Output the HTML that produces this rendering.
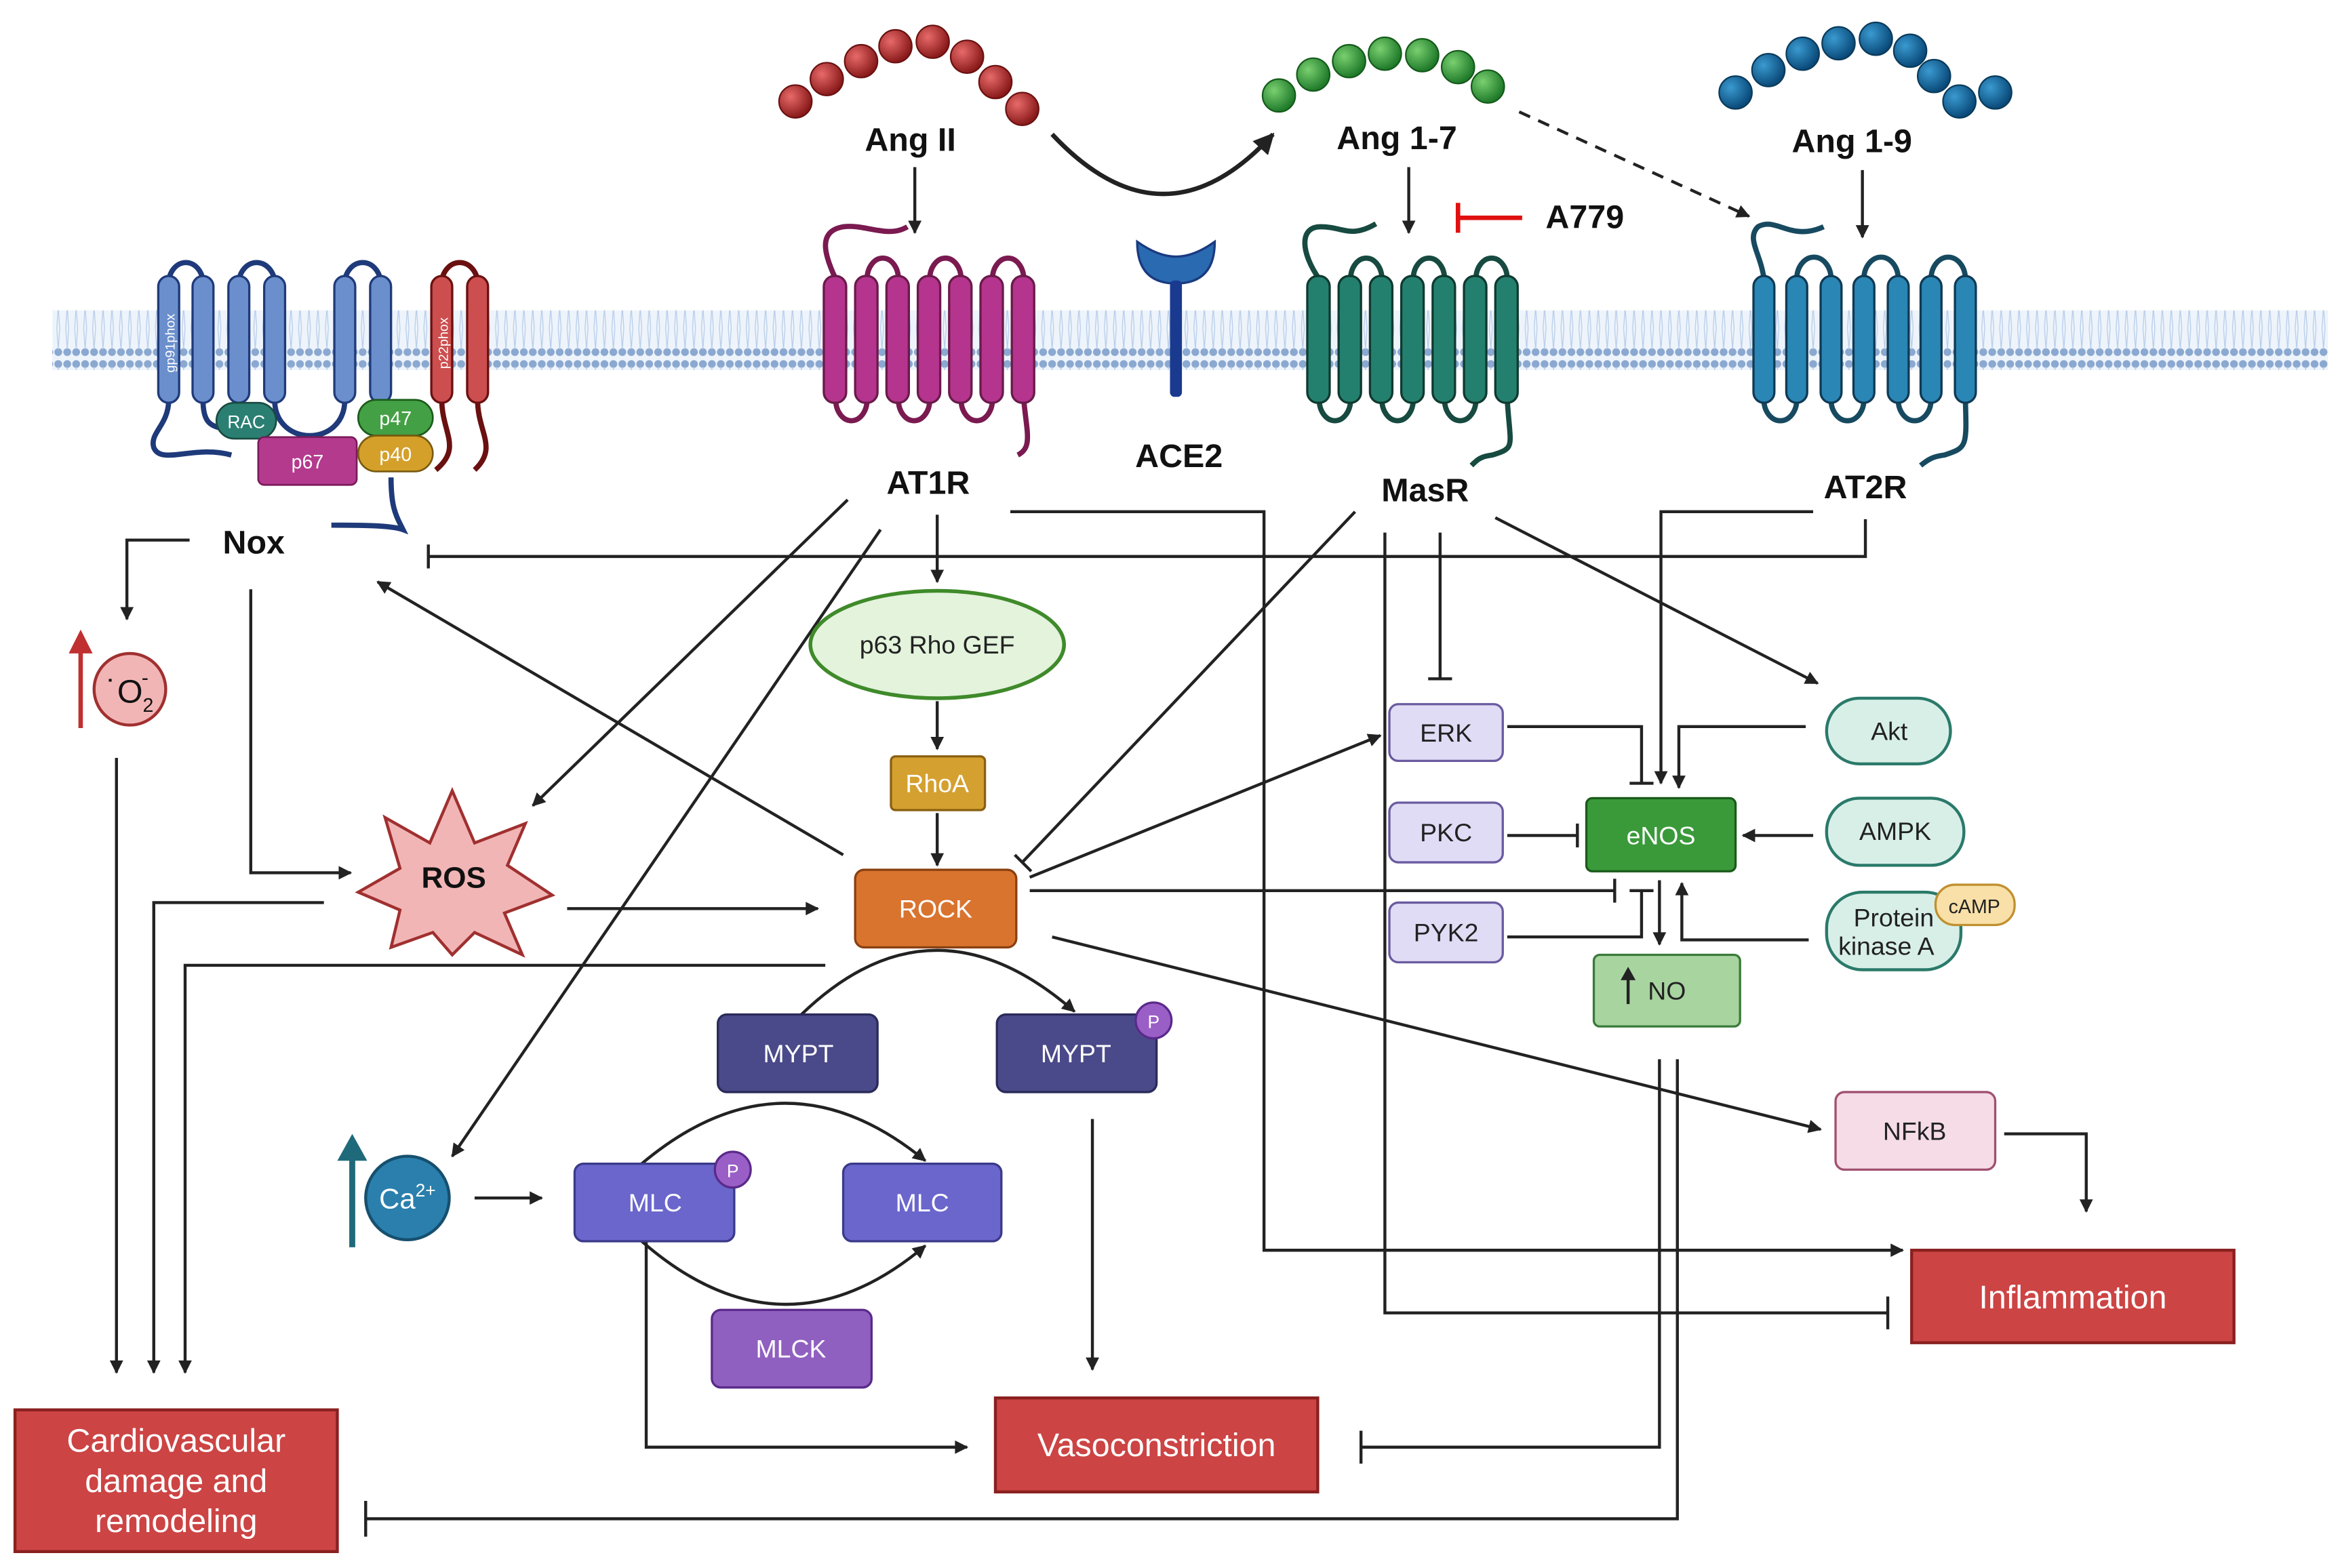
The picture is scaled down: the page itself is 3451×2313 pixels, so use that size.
<!DOCTYPE html>
<html><head><meta charset="utf-8"><style>
html,body{margin:0;padding:0;background:#fff;}
svg{display:block;}
text{font-family:"Liberation Sans",sans-serif;}
.lb{font-weight:bold;font-size:22px;fill:#111;text-anchor:middle;}
.bx{font-size:17px;text-anchor:middle;}
</style></head><body>
<svg width="3451" height="2313" viewBox="0 0 1568 1051" xmlns="http://www.w3.org/2000/svg">
<defs>
<marker id="ar" viewBox="0 0 10 10" refX="9" refY="5" markerWidth="10" markerHeight="9" orient="auto-start-reverse" markerUnits="userSpaceOnUse"><path d="M0,0 L10,5 L0,10 z" fill="#222"/></marker>
<marker id="ar2" viewBox="0 0 10 10" refX="9" refY="5" markerWidth="14" markerHeight="14" orient="auto" markerUnits="userSpaceOnUse"><path d="M0,0 L10,5 L0,10 z" fill="#222"/></marker>
<pattern id="dots" x="0" y="0" width="6" height="40" patternUnits="userSpaceOnUse">
<circle cx="3" cy="4" r="2.6" fill="#8aa8d0"/><circle cx="3" cy="36" r="2.6" fill="#8aa8d0"/>
<line x1="3" y1="6" x2="2" y2="20" stroke="#b8cdea" stroke-width="0.6"/><line x1="3" y1="6" x2="4" y2="20" stroke="#b8cdea" stroke-width="0.6"/>
<line x1="3" y1="34" x2="2" y2="20" stroke="#b8cdea" stroke-width="0.6"/><line x1="3" y1="34" x2="4" y2="20" stroke="#b8cdea" stroke-width="0.6"/>
</pattern>
<radialGradient id="gr" cx="35%" cy="35%" r="65%"><stop offset="0" stop-color="#e86a6a"/><stop offset="1" stop-color="#8a1a1a"/></radialGradient>
<radialGradient id="gg" cx="35%" cy="35%" r="65%"><stop offset="0" stop-color="#7ad070"/><stop offset="1" stop-color="#1f7a2a"/></radialGradient>
<radialGradient id="gb" cx="35%" cy="35%" r="65%"><stop offset="0" stop-color="#3a9ad0"/><stop offset="1" stop-color="#0a4a7a"/></radialGradient>
</defs>

<rect x="35" y="208" width="1525" height="40" fill="#eef4fb"/>
<rect x="35" y="208" width="1525" height="40" fill="url(#dots)"/>

<g fill="url(#gr)" stroke="#6a1010" stroke-width="1">
<circle cx="533" cy="68" r="11"/><circle cx="554" cy="53" r="11"/><circle cx="577" cy="41" r="11"/><circle cx="600" cy="31" r="11"/><circle cx="625" cy="28" r="11"/><circle cx="648" cy="38" r="11"/><circle cx="667" cy="55" r="11"/><circle cx="685" cy="73" r="11"/></g>
<g fill="url(#gg)" stroke="#145a1a" stroke-width="1">
<circle cx="857" cy="64" r="11"/><circle cx="880" cy="50" r="11"/><circle cx="904" cy="41" r="11"/><circle cx="928" cy="36" r="11"/><circle cx="953" cy="37" r="11"/><circle cx="977" cy="45" r="11"/><circle cx="997" cy="58" r="11"/></g>
<g fill="url(#gb)" stroke="#0a3a5a" stroke-width="1">
<circle cx="1163" cy="62" r="11"/><circle cx="1185" cy="47" r="11"/><circle cx="1208" cy="36" r="11"/><circle cx="1232" cy="29" r="11"/><circle cx="1257" cy="26" r="11"/><circle cx="1280" cy="34" r="11"/><circle cx="1296" cy="51" r="11"/><circle cx="1313" cy="68" r="11"/><circle cx="1337" cy="62" r="11"/></g>
<text class="lb" x="610" y="101">Ang II</text>
<text class="lb" x="936" y="100">Ang 1-7</text>
<text class="lb" x="1241" y="102">Ang 1-9</text>

<g stroke="#6a1a4a" stroke-width="1.5" fill="#b4348e">
<path d="M560,187 C552,170 548,155 565,152 C580,150 595,160 608,152" fill="none" stroke="#7a1a50" stroke-width="3.5"/>
<path d="M581,187 A10.5,14 0 0 1 602,187 M623,187 A10.5,14 0 0 1 644,187 M665,187 A10.5,14 0 0 1 686,187" fill="none" stroke="#7a1a50" stroke-width="3.5"/>
<path d="M560,268 A10.5,14 0 0 0 581,268 M602,268 A10.5,14 0 0 0 623,268 M644,268 A10.5,14 0 0 0 665,268 M686,268 C688,290 692,300 682,305" fill="none" stroke="#7a1a50" stroke-width="3.5"/>
<rect x="552" y="185" width="15" height="85" rx="7"/><rect x="573" y="185" width="15" height="85" rx="7"/><rect x="594" y="185" width="15" height="85" rx="7"/><rect x="615" y="185" width="15" height="85" rx="7"/><rect x="636" y="185" width="15" height="85" rx="7"/><rect x="657" y="185" width="15" height="85" rx="7"/><rect x="678" y="185" width="15" height="85" rx="7"/>
</g>
<text class="lb" x="622" y="331">AT1R</text>

<path d="M762,162 Q762,190 788,190 Q814,190 814,162 Q800,172 788,172 Q776,172 762,162z" fill="#2a6ab0" stroke="#1a3a80" stroke-width="1.5"/>
<rect x="784" y="188" width="8" height="78" rx="3" fill="#1a3a90"/>
<text class="lb" x="790" y="313">ACE2</text>

<g stroke="#0f3a30" stroke-width="1.5" fill="#24806e">
<path d="M884,187 C872,170 870,152 885,152 C900,152 905,160 922,150" fill="none" stroke="#174a40" stroke-width="3.5"/>
<path d="M905,187 A10.5,14 0 0 1 926,187 M947,187 A10.5,14 0 0 1 968,187 M989,187 A10.5,14 0 0 1 1010,187" fill="none" stroke="#174a40" stroke-width="3.5"/>
<path d="M884,268 A10.5,14 0 0 0 905,268 M926,268 A10.5,14 0 0 0 947,268 M968,268 A10.5,14 0 0 0 989,268 M1010,268 C1012,300 1016,300 1000,305 C992,306 990,308 986,312" fill="none" stroke="#174a40" stroke-width="3.5"/>
<rect x="876" y="185" width="15" height="85" rx="7"/><rect x="897" y="185" width="15" height="85" rx="7"/><rect x="918" y="185" width="15" height="85" rx="7"/><rect x="939" y="185" width="15" height="85" rx="7"/><rect x="960" y="185" width="15" height="85" rx="7"/><rect x="981" y="185" width="15" height="85" rx="7"/><rect x="1002" y="185" width="15" height="85" rx="7"/>
</g>
<text class="lb" x="955" y="336">MasR</text>

<g stroke="#0f3a55" stroke-width="1.5" fill="#2a86b4">
<path d="M1182,187 C1180,170 1170,160 1178,152 C1190,145 1200,162 1222,152" fill="none" stroke="#174a60" stroke-width="3.5"/>
<path d="M1204,187 A11,14 0 0 1 1227,187 M1249,187 A11,14 0 0 1 1272,187 M1294,187 A11,14 0 0 1 1317,187" fill="none" stroke="#174a60" stroke-width="3.5"/>
<path d="M1182,268 A11,14 0 0 0 1204,268 M1227,268 A11,14 0 0 0 1249,268 M1272,268 A11,14 0 0 0 1294,268 M1317,268 C1318,300 1318,300 1303,305 C1295,306 1292,308 1287,312" fill="none" stroke="#174a60" stroke-width="3.5"/>
<rect x="1175" y="185" width="14" height="85" rx="7"/><rect x="1197" y="185" width="14" height="85" rx="7"/><rect x="1220" y="185" width="14" height="85" rx="7"/><rect x="1242" y="185" width="14" height="85" rx="7"/><rect x="1265" y="185" width="14" height="85" rx="7"/><rect x="1287" y="185" width="14" height="85" rx="7"/><rect x="1310" y="185" width="14" height="85" rx="7"/>
</g>
<text class="lb" x="1250" y="334">AT2R</text>

<g fill="none" stroke="#1f3a7a" stroke-width="3.5">
<path d="M113,190 A11.5,14 0 0 1 136,190 M160,190 A12,14 0 0 1 184,190 M231,190 A12,14 0 0 1 255,190"/>
<path d="M113,268 C113,285 100,290 103,300 C108,312 130,298 155,305"/>
<path d="M136,268 C136,282 140,285 148,287"/>
<path d="M184,268 C184,300 231,300 231,268"/>
<path d="M262,320 C262,340 265,345 270,355 C262,352 240,352 222,352"/>
</g>
<g fill="none" stroke="#6a1010" stroke-width="3.5">
<path d="M296,190 A12,14 0 0 1 320,190"/>
<path d="M296,268 C296,290 310,300 292,315 M320,268 C320,290 334,300 318,315"/>
</g>
<g stroke="#1f3a7a" stroke-width="1.5" fill="#6a8fcc">
<rect x="106" y="185" width="14" height="85" rx="7"/><rect x="129" y="185" width="14" height="85" rx="7"/><rect x="153" y="185" width="14" height="85" rx="7"/><rect x="177" y="185" width="14" height="85" rx="7"/><rect x="224" y="185" width="14" height="85" rx="7"/><rect x="248" y="185" width="14" height="85" rx="7"/>
</g>
<g stroke="#6a1010" stroke-width="1.5" fill="#cc4e4e">
<rect x="289" y="185" width="14" height="85" rx="7"/><rect x="313" y="185" width="14" height="85" rx="7"/>
</g>
<text x="117" y="230" font-size="9" fill="#fff" transform="rotate(-90 117 230)" text-anchor="middle">gp91phox</text>
<text x="300" y="230" font-size="9" fill="#fff" transform="rotate(-90 300 230)" text-anchor="middle">p22phox</text>
<rect x="145" y="270" width="40" height="24" rx="12" fill="#2a7f72" stroke="#1a4a40" stroke-width="1.2"/>
<text x="165" y="287" font-size="12" fill="#fff" text-anchor="middle">RAC</text>
<rect x="173" y="293" width="66" height="32" rx="4" fill="#b43a8e" stroke="#7a1a5a" stroke-width="1.2"/>
<text x="206" y="314" font-size="13" fill="#fff" text-anchor="middle">p67</text>
<rect x="240" y="268" width="50" height="24" rx="12" fill="#44a044" stroke="#1a5a1a" stroke-width="1.2"/>
<text x="265" y="285" font-size="13" fill="#fff" text-anchor="middle">p47</text>
<rect x="240" y="292" width="50" height="24" rx="12" fill="#d4a02a" stroke="#7a5a10" stroke-width="1.2"/>
<text x="265" y="309" font-size="13" fill="#fff" text-anchor="middle">p40</text>
<text class="lb" x="170" y="371">Nox</text>

<g fill="none" stroke="#222" stroke-width="2">
<line x1="613" y1="112" x2="613" y2="156" marker-end="url(#ar)"/>
<path d="M705,90 Q780,170 853,90" stroke-width="3" marker-end="url(#ar2)"/>
<line x1="944" y1="112" x2="944" y2="156" marker-end="url(#ar)"/>
<line x1="1018" y1="75" x2="1172" y2="145" stroke-dasharray="8,6" marker-end="url(#ar)"/>
<line x1="1248" y1="114" x2="1248" y2="159" marker-end="url(#ar)"/>
<path d="M127,362 H85 V415" marker-end="url(#ar)"/>
<path d="M1250,348 V373 H287 M287,365 V381"/>
<line x1="628" y1="345" x2="628" y2="390" marker-end="url(#ar)"/>
<line x1="628" y1="470" x2="628" y2="502" marker-end="url(#ar)"/>
<line x1="628" y1="545" x2="628" y2="580" marker-end="url(#ar)"/>
<line x1="568" y1="335" x2="357" y2="540" marker-end="url(#ar)"/>
<line x1="590" y1="355" x2="303" y2="775" marker-end="url(#ar)"/>
<path d="M677,343 H847 V838 H1275" marker-end="url(#ar)"/>
<line x1="565" y1="573" x2="253" y2="390" marker-end="url(#ar)"/>
<path d="M168,395 V585 H235" marker-end="url(#ar)"/>
<line x1="380" y1="609" x2="548" y2="609" marker-end="url(#ar)"/>
<path d="M217,605 H103 V920" marker-end="url(#ar)"/>
<path d="M553,647 H124 V920" marker-end="url(#ar)"/>
<line x1="78" y1="508" x2="78" y2="920" marker-end="url(#ar)"/>
<path d="M537,680 Q625,595 720,678" marker-end="url(#ar)"/>
<path d="M430,780 Q525,700 620,778" marker-end="url(#ar)"/>
<path d="M430,832 Q525,915 620,835" marker-end="url(#ar)"/>
<line x1="318" y1="803" x2="363" y2="803" marker-end="url(#ar)"/>
<path d="M433,832 V970 H648" marker-end="url(#ar)"/>
<line x1="732" y1="750" x2="732" y2="918" marker-end="url(#ar)"/>
<line x1="705" y1="628" x2="1220" y2="757" marker-end="url(#ar)"/>
<path d="M1343,760 H1398 V812" marker-end="url(#ar)"/>
<path d="M908,343 L685,578 M680,573 L691,584"/>
<path d="M965,357 V455 M957,455 H973"/>
<line x1="1002" y1="347" x2="1218" y2="458" marker-end="url(#ar)"/>
<path d="M928,357 V880 H1265 M1265,869 V891"/>
<line x1="690" y1="588" x2="925" y2="493" marker-end="url(#ar)"/>
<path d="M690,597 H1082 M1082,589 V605"/>
<path d="M1010,487 H1100 V525 M1092,525 H1108"/>
<path d="M1210,487 H1125 V528" marker-end="url(#ar)"/>
<path d="M1215,343 H1113 V525" marker-end="url(#ar)"/>
<path d="M1010,560 H1057 M1057,552 V568"/>
<line x1="1215" y1="560" x2="1168" y2="560" marker-end="url(#ar)"/>
<path d="M1010,628 H1100 V597 M1092,597 H1108"/>
<line x1="1112" y1="590" x2="1112" y2="633" marker-end="url(#ar)"/>
<path d="M1212,630 H1127 V592" marker-end="url(#ar)"/>
<path d="M1112,710 V970 H912 M912,959 V981"/>
<path d="M1124,710 V1018 H245 M245,1006 V1030"/>
</g>
<path d="M1020,146 H977 M977,136 V156" stroke="#e01010" stroke-width="3" fill="none"/>
<text class="lb" x="1062" y="153">A779</text>

<line x1="54" y1="488" x2="54" y2="430" stroke="#c03030" stroke-width="3"/>
<path d="M46,438 L54,422 L62,438z" fill="#c03030"/>
<circle cx="87" cy="462" r="24" fill="#f2b5b5" stroke="#a03030" stroke-width="2"/>
<text x="87" y="471" font-size="22" text-anchor="middle" fill="#111">˙O<tspan font-size="13" dy="6">2</tspan><tspan font-size="14" dy="-18" dx="-8">-</tspan></text>
<line x1="236" y1="836" x2="236" y2="772" stroke="#1f6a7a" stroke-width="4"/>
<path d="M226,778 L236,760 L246,778z" fill="#1f6a7a"/>
<circle cx="273" cy="803" r="28" fill="#2a7fad" stroke="#16506e" stroke-width="2"/>
<text x="273" y="810" font-size="19" fill="#fff" text-anchor="middle">Ca<tspan font-size="12" dy="-8">2+</tspan></text>

<path d="M303,530 L318,565 L352,552 L340,580 L370,600 L338,612 L350,640 L318,625 L303,640 L290,625 L262,635 L268,610 L240,598 L268,582 L258,548 L288,565 Z" fill="#f2b5b5" stroke="#a03030" stroke-width="2"/>
<text x="304" y="595" font-size="20" font-weight="bold" text-anchor="middle" fill="#111">ROS</text>

<ellipse cx="628" cy="432" rx="85" ry="36" fill="#e3f3dc" stroke="#3f8a2a" stroke-width="2.5"/>
<text class="bx" x="628" y="438" fill="#222">p63 Rho GEF</text>
<rect x="597" y="507" width="63" height="36" rx="3" fill="#d4a030" stroke="#8a6010" stroke-width="1.5"/>
<text class="bx" x="628" y="531" fill="#fff">RhoA</text>
<rect x="573" y="583" width="108" height="52" rx="6" fill="#d9742f" stroke="#8a4010" stroke-width="1.5"/>
<text class="bx" x="627" y="615" fill="#fff">ROCK</text>
<rect x="481" y="680" width="107" height="52" rx="6" fill="#4a4a8a" stroke="#2a2a5a" stroke-width="1.5"/>
<text class="bx" x="535" y="712" fill="#fff">MYPT</text>
<rect x="668" y="680" width="107" height="52" rx="6" fill="#4a4a8a" stroke="#2a2a5a" stroke-width="1.5"/>
<text class="bx" x="721" y="712" fill="#fff">MYPT</text>
<circle cx="773" cy="684" r="12" fill="#9a5fc7" stroke="#5a2a8a" stroke-width="1.5"/><text x="773" y="689" font-size="12" fill="#fff" text-anchor="middle">P</text>
<rect x="385" y="780" width="107" height="52" rx="6" fill="#6a66cc" stroke="#3a3a8a" stroke-width="1.5"/>
<text class="bx" x="439" y="812" fill="#fff">MLC</text>
<circle cx="491" cy="784" r="12" fill="#9a5fc7" stroke="#5a2a8a" stroke-width="1.5"/><text x="491" y="789" font-size="12" fill="#fff" text-anchor="middle">P</text>
<rect x="565" y="780" width="106" height="52" rx="6" fill="#6a66cc" stroke="#3a3a8a" stroke-width="1.5"/>
<text class="bx" x="618" y="812" fill="#fff">MLC</text>
<rect x="477" y="878" width="107" height="52" rx="6" fill="#9060c0" stroke="#5a2a8a" stroke-width="1.5"/>
<text class="bx" x="530" y="910" fill="#fff">MLCK</text>

<rect x="931" y="472" width="76" height="38" rx="6" fill="#e0dcf5" stroke="#6a5aa0" stroke-width="1.5"/>
<text class="bx" x="969" y="497" fill="#222" font-size="16">ERK</text>
<rect x="931" y="538" width="76" height="40" rx="6" fill="#e0dcf5" stroke="#6a5aa0" stroke-width="1.5"/>
<text class="bx" x="969" y="564" fill="#222" font-size="16">PKC</text>
<rect x="931" y="605" width="76" height="40" rx="6" fill="#e0dcf5" stroke="#6a5aa0" stroke-width="1.5"/>
<text class="bx" x="969" y="631" fill="#222" font-size="16">PYK2</text>
<rect x="1063" y="535" width="100" height="49" rx="4" fill="#3a9a3a" stroke="#1a5a1a" stroke-width="1.5"/>
<text class="bx" x="1113" y="566" fill="#fff">eNOS</text>
<rect x="1068" y="640" width="98" height="48" rx="4" fill="#a8d4a0" stroke="#3a7a3a" stroke-width="1.5"/>
<text class="bx" x="1117" y="670" fill="#222">NO</text>
<line x1="1091" y1="673" x2="1091" y2="654" stroke="#222" stroke-width="2"/><path d="M1086,657 L1091,648 L1096,657z" fill="#222"/>
<rect x="1224" y="468" width="83" height="44" rx="22" fill="#d8efe8" stroke="#2a7a6a" stroke-width="2"/>
<text class="bx" x="1266" y="496" fill="#222" font-size="16">Akt</text>
<rect x="1224" y="535" width="92" height="45" rx="22" fill="#d8efe8" stroke="#2a7a6a" stroke-width="2"/>
<text class="bx" x="1270" y="563" fill="#222" font-size="16">AMPK</text>
<rect x="1224" y="598" width="90" height="52" rx="24" fill="#d8efe8" stroke="#2a7a6a" stroke-width="2"/>
<text class="bx" x="1269" y="621" fill="#222" font-size="15">Protein</text>
<text class="bx" x="1264" y="640" fill="#222" font-size="15">kinase A</text>
<rect x="1297" y="593" width="53" height="27" rx="13" fill="#f8e0a8" stroke="#c09030" stroke-width="1.5"/>
<text x="1323" y="612" font-size="13" fill="#222" text-anchor="middle">cAMP</text>
<rect x="1230" y="732" width="107" height="52" rx="6" fill="#f5dce6" stroke="#a05070" stroke-width="1.5"/>
<text class="bx" x="1283" y="764" fill="#222">NFkB</text>

<rect x="1281" y="838" width="216" height="62" fill="#cc4444" stroke="#8a2020" stroke-width="2"/>
<text x="1389" y="877" font-size="22" fill="#fff" text-anchor="middle">Inflammation</text>
<rect x="667" y="937" width="216" height="63" fill="#cc4444" stroke="#8a2020" stroke-width="2"/>
<text x="775" y="976" font-size="22" fill="#fff" text-anchor="middle">Vasoconstriction</text>
<rect x="10" y="945" width="216" height="95" fill="#cc4444" stroke="#8a2020" stroke-width="2"/>
<text x="118" y="973" font-size="22" fill="#fff" text-anchor="middle">Cardiovascular</text>
<text x="118" y="1000" font-size="22" fill="#fff" text-anchor="middle">damage and</text>
<text x="118" y="1027" font-size="22" fill="#fff" text-anchor="middle">remodeling</text>
</svg>
</body></html>
